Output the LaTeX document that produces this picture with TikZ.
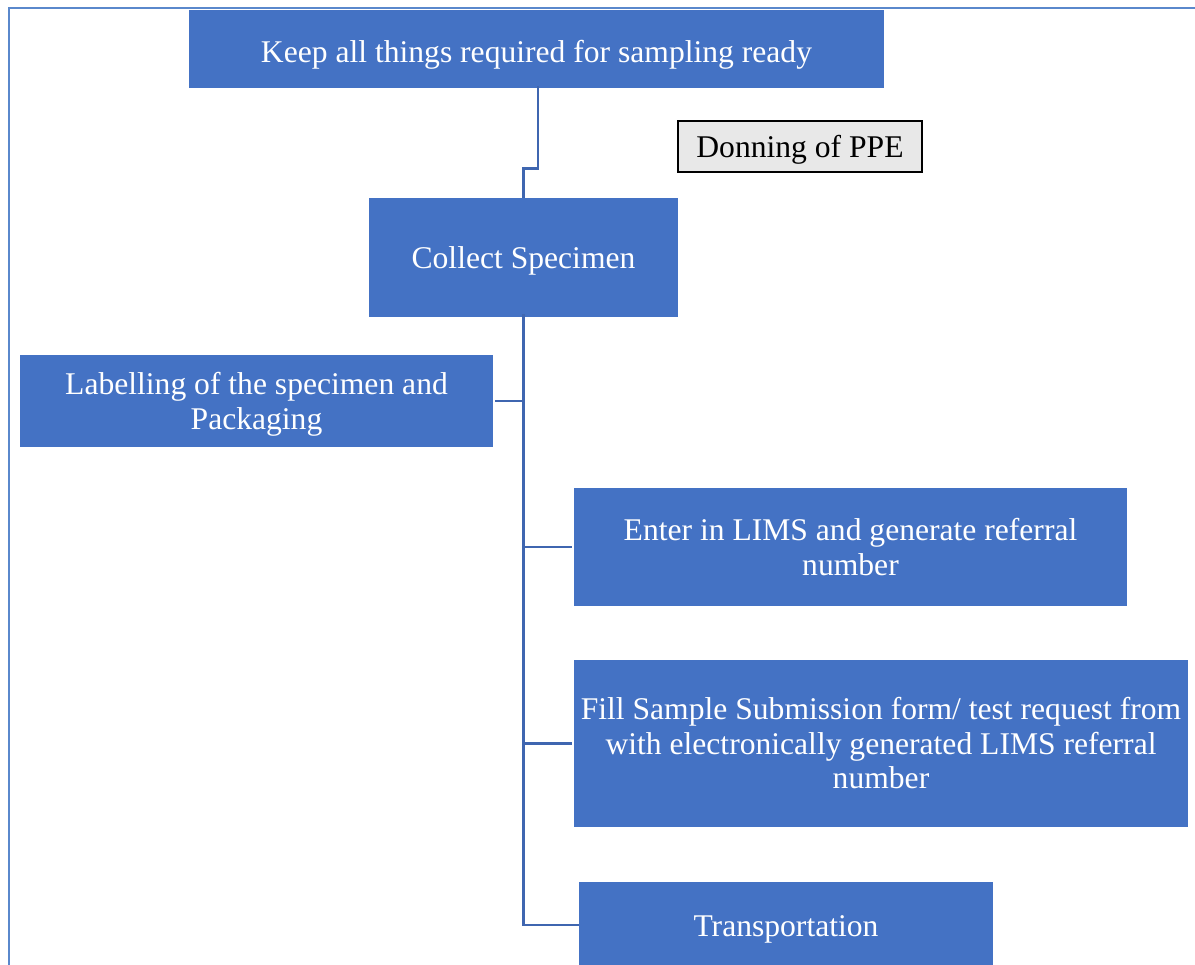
\documentclass[tikz,border=0pt]{standalone}
\usepackage{fontspec}
\setmainfont{Liberation Serif}
\definecolor{boxblue}{HTML}{4472C4}
\definecolor{linkblue}{HTML}{3F66B0}
\definecolor{frameblue}{HTML}{5A88CC}
\definecolor{ppegray}{HTML}{E8E8E8}
\begin{document}
\begin{tikzpicture}[x=1pt,y=-1pt,
  bluebox/.style={fill=boxblue, draw=none, text=white, inner sep=0pt, align=center,
    font=\fontsize{31.6}{34.5}\selectfont},
  oneline/.style={text height=#1, text depth=0pt},
  link/.style={draw=linkblue, line width=2.8pt},
  frame/.style={draw=frameblue, line width=2.5pt}]
\useasboundingbox (0,0) rectangle (1195,965);
\draw[frame] (9,965) -- (9,8) -- (1195,8);
\node[bluebox, oneline=27pt, minimum width=695pt, minimum height=78pt] (top) at (536.5,49) {Keep all things required for sampling ready};
\node[fill=ppegray, draw=black, line width=2pt, inner sep=0pt, minimum width=244pt, minimum height=51pt,
  oneline=23pt, font=\fontsize{31.6}{34.5}\selectfont] (ppe) at (800,146.5) {Donning of PPE};
\node[bluebox, oneline=23pt, minimum width=309pt, minimum height=119pt] (collect) at (523.5,257.5) {Collect Specimen};
\node[bluebox, minimum width=473pt, minimum height=92pt] (label) at (256.5,401) {\rule{0pt}{6pt}\\[-12pt]Labelling of the specimen and\\Packaging};
\node[bluebox, minimum width=553pt, minimum height=118pt] (lims) at (850.5,547) {Enter in LIMS and generate referral\\number};
\node[bluebox, minimum width=614pt, minimum height=167pt] (fill) at (881,743.5) {Fill Sample Submission form/ test request from\\with electronically generated LIMS referral\\number};
\node[bluebox, oneline=23pt, minimum width=414pt, minimum height=86pt] (trans) at (786,925) {Transportation};
\draw[link] ([xshift=1.5pt,yshift=2pt]top.south) -- ++(0,82) -| (collect.north);
\draw[link] ([yshift=3pt]collect.south) |- (trans.west);
\draw[link] ([yshift=3pt]collect.south) |- ([xshift=2pt]label.east);
\draw[link] ([yshift=3pt]collect.south) |- ([xshift=-2pt]lims.west);
\draw[link] ([yshift=3pt]collect.south) |- ([xshift=-2pt]fill.west);
\end{tikzpicture}
\end{document}
